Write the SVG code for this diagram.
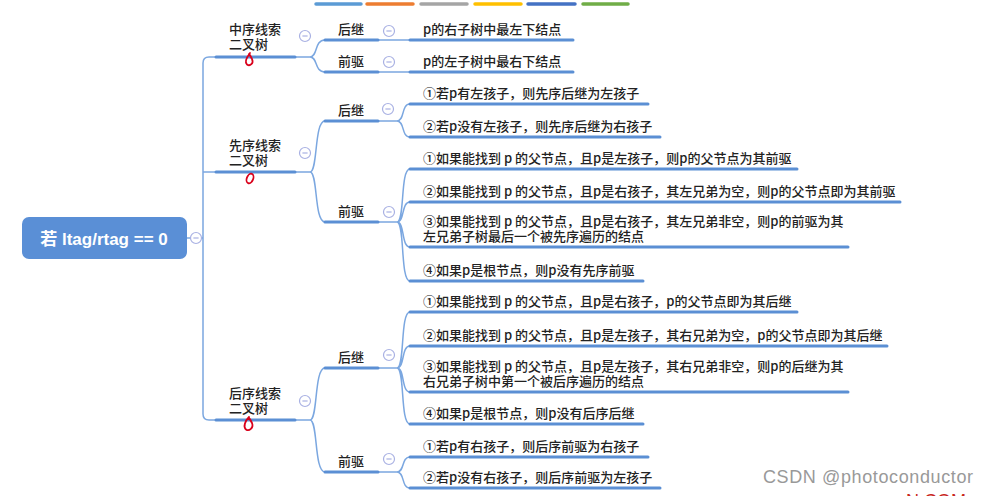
<svg xmlns="http://www.w3.org/2000/svg" xmlns:xlink="http://www.w3.org/1999/xlink" width="989" height="496" viewBox="0 0 989 496">
<style>
.ul{stroke:#5b8fd4;stroke-width:3;stroke-linecap:round;fill:none}
.cn{stroke:#7ba7e0;stroke-width:1.5;fill:none}
.t{font-family:"Noto Sans CJK SC","Noto Sans",sans-serif;font-size:13px;font-weight:500;fill:#222}
.red{stroke:#d9001b;stroke-width:1.8;fill:none;stroke-linecap:round}
.bar{stroke-width:3.5;stroke-linecap:round}
</style>
<defs>
<g id="minus"><circle cx="0" cy="0" r="5.5" fill="#fff" stroke="#a9b1e3" stroke-width="1.2"/><line x1="-2.6" y1="0" x2="2.6" y2="0" stroke="#a9b1e3" stroke-width="1.2"/></g>
</defs>
<rect width="989" height="496" fill="#fff"/>
<g id="colorbar">
<line class="bar" x1="316" y1="4" x2="361" y2="4" stroke="#5b9bd5"/>
<line class="bar" x1="367" y1="4" x2="413" y2="4" stroke="#ed7d31"/>
<line class="bar" x1="421" y1="4" x2="467" y2="4" stroke="#a5a5a5"/>
<line class="bar" x1="475" y1="4" x2="521" y2="4" stroke="#ffc000"/>
<line class="bar" x1="528" y1="4" x2="575" y2="4" stroke="#4472c4"/>
<line class="bar" x1="583" y1="4" x2="628" y2="4" stroke="#70ad47"/>
</g>
<g id="connectors">
<path class="cn" d="M187,238 L203,238"/>
<path class="cn" d="M215,57 L209,57 Q203,57 203,63 L203,414 Q203,420 209,420 L215,420"/>
<path class="cn" d="M203,172 L215,172"/>
<path class="cn" d="M295,57 L310,57 M295,172 L310,172 M295,420 L310,420"/>
<path class="cn" d="M310,57 C318,57 314,40 325,40 M310,57 C318,57 314,72 325,72"/>
<path class="cn" d="M310,172 C318,172 314,121 325,121 M310,172 C318,172 314,222 325,222"/>
<path class="cn" d="M310,420 C318,420 314,368 325,368 M310,420 C318,420 314,472 325,472"/>
<path class="cn" d="M378,40 L410,40 M378,72 L410,72"/>
<path class="cn" d="M378,121 L397,121 M397,121 C405,121 401,104 410,104 M397,121 C405,121 401,137 410,137"/>
<path class="cn" d="M378,222 L397,222 M397,222 C405,222 400,169 410,169 M397,222 C405,222 401,202 410,202 M397,222 C405,222 401,247 410,247 M397,222 C405,222 400,281 410,281"/>
<path class="cn" d="M378,368 L397,368 M397,368 C405,368 400,312 410,312 M397,368 C405,368 401,346 410,346 M397,368 C405,368 401,392 410,392 M397,368 C405,368 400,424 410,424"/>
<path class="cn" d="M378,472 L397,472 M397,472 C405,472 401,457 410,457 M397,472 C405,472 401,488 410,488"/>
</g>
<g id="root">
<rect x="22" y="217" width="165" height="42" rx="7" fill="#5a8fd6"/>
<text x="104" y="245" text-anchor="middle" font-family="'Liberation Sans','Noto Sans CJK SC',sans-serif" font-size="17" font-weight="bold" fill="#fff">若 ltag/rtag == 0</text>
<use xlink:href="#minus" x="196" y="238"/>
</g>
<g id="inorder">
<text class="t" x="229" y="34">中序线索<tspan x="229" dy="15">二叉树</tspan></text>
<line class="ul" x1="216" y1="57" x2="295" y2="57"/>
<path class="red" d="M250,53 C247,57 244,62 247,64.5 C250,66.5 254,63.5 252,59 C251,57 250,55 249,54"/>
<use xlink:href="#minus" x="305" y="36"/>
</g>
<g id="inorder-succ">
<text class="t" x="338" y="34">后继</text>
<line class="ul" x1="325" y1="40" x2="378" y2="40"/>
<use xlink:href="#minus" x="389" y="31"/>
</g>
<g id="inorder-succ-1">
<text class="t" x="423" y="34">p的右子树中最左下结点</text>
<line class="ul" x1="410" y1="40" x2="573" y2="40"/>
</g>
<g id="inorder-pred">
<text class="t" x="338" y="66">前驱</text>
<line class="ul" x1="325" y1="72" x2="378" y2="72"/>
<use xlink:href="#minus" x="389" y="62"/>
</g>
<g id="inorder-pred-1">
<text class="t" x="423" y="66">p的左子树中最右下结点</text>
<line class="ul" x1="410" y1="72" x2="573" y2="72"/>
</g>
<g id="preorder">
<text class="t" x="229" y="150">先序线索<tspan x="229" dy="15">二叉树</tspan></text>
<line class="ul" x1="216" y1="172" x2="295" y2="172"/>
<ellipse class="red" cx="250" cy="178.5" rx="3.2" ry="5" transform="rotate(22 250 178.5)"/>
<use xlink:href="#minus" x="305" y="153"/>
</g>
<g id="preorder-succ">
<text class="t" x="338" y="115">后继</text>
<line class="ul" x1="325" y1="121" x2="378" y2="121"/>
<use xlink:href="#minus" x="388" y="109"/>
</g>
<g id="preorder-succ-1">
<text class="t" x="423" y="98">①若p有左孩子，则先序后继为左孩子</text>
<line class="ul" x1="410" y1="104" x2="648" y2="104"/>
</g>
<g id="preorder-succ-2">
<text class="t" x="423" y="131">②若p没有左孩子，则先序后继为右孩子</text>
<line class="ul" x1="410" y1="137" x2="660" y2="137"/>
</g>
<g id="preorder-pred">
<text class="t" x="338" y="216">前驱</text>
<line class="ul" x1="325" y1="222" x2="378" y2="222"/>
<use xlink:href="#minus" x="389" y="212"/>
</g>
<g id="preorder-pred-1">
<text class="t" x="423" y="163">①如果能找到 p 的父节点，且p是左孩子，则p的父节点为其前驱</text>
<line class="ul" x1="410" y1="169" x2="797" y2="169"/>
</g>
<g id="preorder-pred-2">
<text class="t" x="423" y="196">②如果能找到 p 的父节点，且p是右孩子，其左兄弟为空，则p的父节点即为其前驱</text>
<line class="ul" x1="410" y1="202" x2="900" y2="202"/>
</g>
<g id="preorder-pred-3">
<text class="t" x="423" y="226">③如果能找到 p 的父节点，且p是右孩子，其左兄弟非空，则p的前驱为其<tspan x="423" dy="15">左兄弟子树最后一个被先序遍历的结点</tspan></text>
<line class="ul" x1="410" y1="247" x2="848" y2="247"/>
</g>
<g id="preorder-pred-4">
<text class="t" x="423" y="275">④如果p是根节点，则p没有先序前驱</text>
<line class="ul" x1="410" y1="281" x2="643" y2="281"/>
</g>
<g id="postorder">
<text class="t" x="229" y="398">后序线索<tspan x="229" dy="15">二叉树</tspan></text>
<line class="ul" x1="216" y1="420" x2="295" y2="420"/>
<path class="red" d="M249,417 C245,421 243,427 246,429.5 C249,431.5 254,428 252,423 C251,421 250,419 249,418"/>
<use xlink:href="#minus" x="305" y="401"/>
</g>
<g id="postorder-succ">
<text class="t" x="338" y="362">后继</text>
<line class="ul" x1="325" y1="368" x2="378" y2="368"/>
<use xlink:href="#minus" x="389" y="355"/>
</g>
<g id="postorder-succ-1">
<text class="t" x="423" y="306">①如果能找到 p 的父节点，且p是右孩子，p的父节点即为其后继</text>
<line class="ul" x1="410" y1="312" x2="797" y2="312"/>
</g>
<g id="postorder-succ-2">
<text class="t" x="423" y="340">②如果能找到 p 的父节点，且p是左孩子，其右兄弟为空，p的父节点即为其后继</text>
<line class="ul" x1="410" y1="346" x2="887" y2="346"/>
</g>
<g id="postorder-succ-3">
<text class="t" x="423" y="371">③如果能找到 p 的父节点，且p是左孩子，其右兄弟非空，则p的后继为其<tspan x="423" dy="15">右兄弟子树中第一个被后序遍历的结点</tspan></text>
<line class="ul" x1="410" y1="392" x2="848" y2="392"/>
</g>
<g id="postorder-succ-4">
<text class="t" x="423" y="418">④如果p是根节点，则p没有后序后继</text>
<line class="ul" x1="410" y1="424" x2="643" y2="424"/>
</g>
<g id="postorder-pred">
<text class="t" x="338" y="466">前驱</text>
<line class="ul" x1="325" y1="472" x2="378" y2="472"/>
<use xlink:href="#minus" x="389" y="459"/>
</g>
<g id="postorder-pred-1">
<text class="t" x="423" y="451">①若p有右孩子，则后序前驱为右孩子</text>
<line class="ul" x1="410" y1="457" x2="648" y2="457"/>
</g>
<g id="postorder-pred-2">
<text class="t" x="423" y="482">②若p没有右孩子，则后序前驱为左孩子</text>
<line class="ul" x1="410" y1="488" x2="660" y2="488"/>
</g>
<g id="watermark">
<text x="763" y="483" font-family="'Liberation Sans',sans-serif" font-size="18" fill="#999" textLength="210">CSDN @photoconductor</text>
<text x="906" y="507" font-family="'Liberation Sans',sans-serif" font-size="18" fill="#c8281e">N.COM</text>
</g>
</svg>
